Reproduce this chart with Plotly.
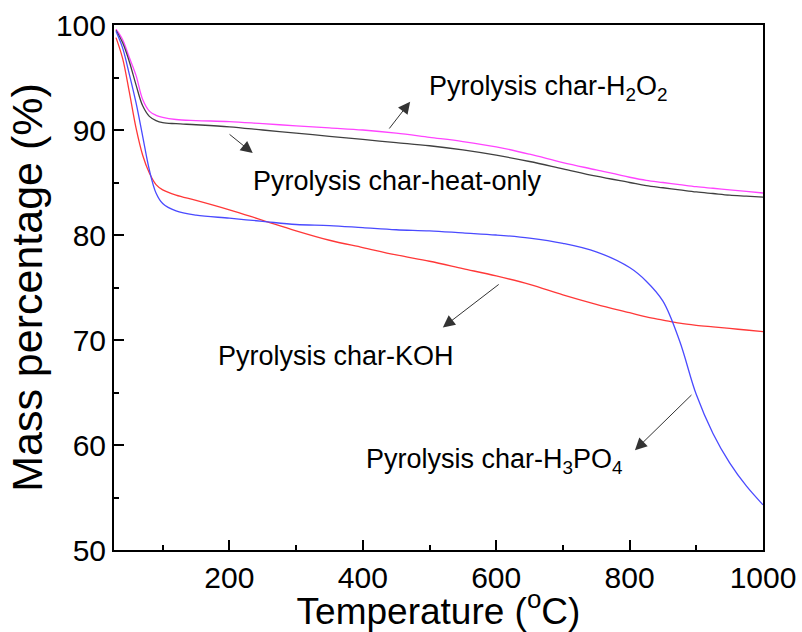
import plotly.graph_objects as go

# Temperature (°C)
temperature = [30, 40, 50, 60, 70, 80, 90, 100, 120, 150, 200, 250, 300, 350, 400, 450,
               500, 550, 600, 650, 700, 750, 800, 825, 850, 875, 900, 925, 950, 975, 1000]

# Mass percentage (%)
mass_h2o2 = [99.6, 98.6, 96.9, 95.2, 92.9, 91.8, 91.4, 91.2, 91.0, 90.9, 90.8, 90.6, 90.4, 90.2,
             90.0, 89.7, 89.3, 88.9, 88.4, 87.7, 86.9, 86.2, 85.5, 85.2, 85.0, 84.8, 84.6, 84.45,
             84.3, 84.15, 84.0]
mass_heat = [99.5, 98.3, 96.5, 94.3, 92.3, 91.3, 90.9, 90.7, 90.6, 90.5, 90.3, 90.0, 89.7, 89.4,
             89.1, 88.8, 88.5, 88.1, 87.6, 87.0, 86.3, 85.6, 85.0, 84.7, 84.5, 84.3, 84.1, 83.95,
             83.8, 83.7, 83.6]
mass_koh = [98.8, 96.8, 93.6, 90.2, 87.6, 85.9, 84.8, 84.3, 83.8, 83.3, 82.4, 81.4, 80.4, 79.5,
            78.8, 78.1, 77.5, 76.8, 76.1, 75.3, 74.3, 73.4, 72.6, 72.2, 71.9, 71.6, 71.4, 71.25,
            71.1, 70.95, 70.8]
mass_h3po4 = [99.4, 97.8, 95.3, 92.6, 89.4, 86.2, 84.0, 83.0, 82.3, 81.9, 81.6, 81.3, 81.0, 80.9,
              80.7, 80.5, 80.4, 80.2, 80.0, 79.7, 79.2, 78.4, 76.9, 75.6, 73.7, 69.9, 64.8, 61.1,
              58.3, 56.1, 54.3]

series_names = ["Pyrolysis char-H<sub>2</sub>O<sub>2</sub>", "Pyrolysis char-heat-only",
                "Pyrolysis char-KOH", "Pyrolysis char-H<sub>3</sub>PO<sub>4</sub>"]
series_values = [mass_h2o2, mass_heat, mass_koh, mass_h3po4]
series_colors = ["#ff44ff", "#404040", "#ff3838", "#4a4aff"]

# label positions (T, mass) and arrow tail/head (T, mass)
label_pos = [(497, 94.0), (233, 85.1), (180, 68.5), (402, 58.5)]
arrow_tail = [(438, 90.0), (198, 89.7), (606, 75.4), (895, 64.9)]
arrow_head = [(471, 92.7), (235, 87.8), (520, 71.2), (808, 59.5)]

FONT = "Arial, Liberation Sans, sans-serif"

fig = go.Figure()
for name, vals, col in zip(series_names, series_values, series_colors):
    fig.add_trace(go.Scatter(x=temperature, y=vals, mode="lines", name=name,
                             line=dict(color=col, width=1.3, shape="spline", smoothing=1.0),
                             showlegend=False, hoverinfo="skip"))

for name, (lx, ly), (tx, ty), (hx, hy) in zip(series_names, label_pos, arrow_tail, arrow_head):
    fig.add_annotation(x=lx, y=ly, xref="x", yref="y", text=name, showarrow=False,
                       xanchor="left", yanchor="middle",
                       font=dict(family=FONT, size=27, color="black"))
    fig.add_annotation(x=hx, y=hy, ax=tx, ay=ty, xref="x", yref="y", axref="x", ayref="y",
                       text="", showarrow=True, arrowhead=2, arrowsize=2.4, arrowwidth=1,
                       arrowcolor="#333333")

axis_common = dict(showline=True, linewidth=2, linecolor="black", mirror=True,
                   ticks="inside", ticklen=10, tickwidth=2, tickcolor="black",
                   showgrid=False, zeroline=False,
                   tickfont=dict(family=FONT, size=30, color="black"))

fig.update_xaxes(range=[27, 1000], tick0=0, dtick=200,
                 minor=dict(dtick=100, ticks="inside", ticklen=5, tickwidth=2, tickcolor="black"),
                 title=dict(text="Temperature (<sup>o</sup>C)", font=dict(family=FONT, size=37, color="black"),
                            standoff=1),
                 **axis_common)
fig.update_yaxes(range=[50, 100], tick0=50, dtick=10,
                 minor=dict(dtick=5, ticks="inside", ticklen=5, tickwidth=2, tickcolor="black"),
                 title=dict(text="Mass percentage (%)", font=dict(family=FONT, size=43, color="black"),
                            standoff=0),
                 **axis_common)

fig.update_layout(width=802, height=632, margin=dict(l=114, r=39, t=25, b=82, autoexpand=False),
                  paper_bgcolor="white", plot_bgcolor="white")

fig.write_html("out.html", config={"displayModeBar": False},
               post_script="document.body.style.margin='0';document.body.style.overflow='hidden';")
